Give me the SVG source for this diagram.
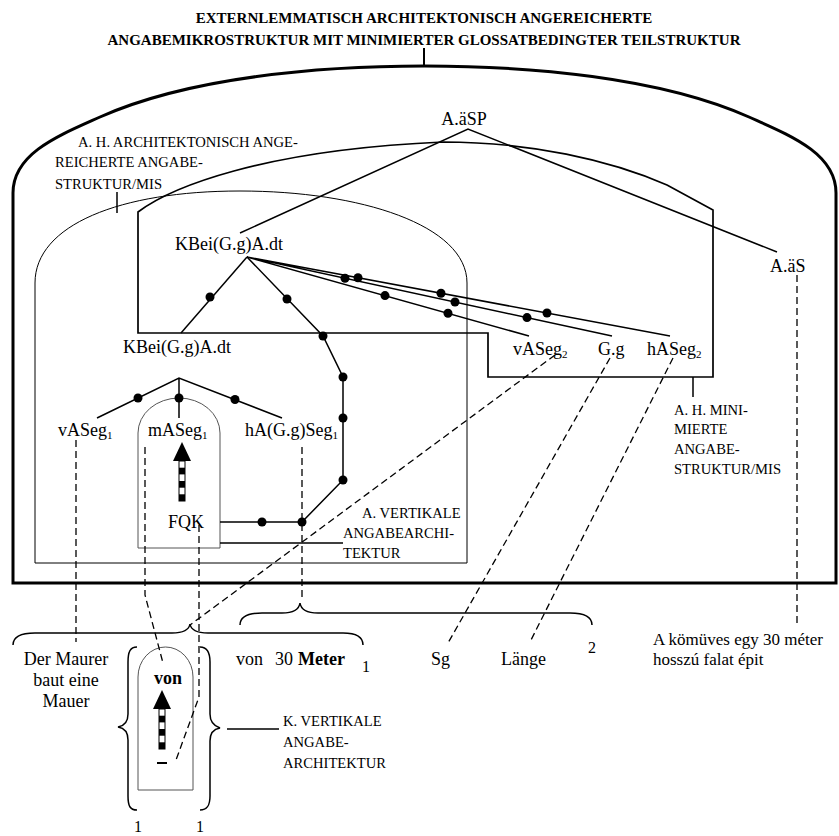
<svg xmlns="http://www.w3.org/2000/svg" width="839" height="836" viewBox="0 0 839 836">
<style>
text{font-family:"Liberation Serif","Times New Roman",serif;fill:#000}
.t{font-size:18px}
.ti{font-size:15px;font-weight:bold;text-anchor:middle}
.lb{font-size:14.6px}
.b{font-weight:bold}
.sub{font-size:11px}
.frame{fill:none;stroke:#000;stroke-width:3}
.med{fill:none;stroke:#000;stroke-width:1.7}
.thin{fill:none;stroke:#000;stroke-width:1}
.gray{fill:none;stroke:#555;stroke-width:1}
.ln{fill:none;stroke:#000;stroke-width:1.5}
.dash{fill:none;stroke:#000;stroke-width:1.3;stroke-dasharray:7,4}
.dot{fill:#000}
.brace{fill:none;stroke:#000;stroke-width:1.5}
</style>
<defs>
<g id="arrow">
<polygon points="0,0 -9,19 9,19" fill="#000"/>
<rect x="-3" y="19" width="6" height="40" fill="#fff" stroke="#000" stroke-width="1"/>
<rect x="-3" y="25.7" width="6" height="6.7" fill="#000"/>
<rect x="-3" y="39" width="6" height="6.7" fill="#000"/>
<rect x="-3" y="52.3" width="6" height="6.7" fill="#000"/>
</g>
</defs>

<g id="title">
<text class="ti" x="424" y="23">EXTERNLEMMATISCH ARCHITEKTONISCH ANGEREICHERTE</text>
<text class="ti" x="424" y="45">ANGABEMIKROSTRUKTUR MIT MINIMIERTER GLOSSATBEDINGTER TEILSTRUKTUR</text>
<line x1="424" y1="48" x2="424" y2="66" stroke="#000" stroke-width="2"/>
</g>

<g id="outer-frame">
<path class="frame" d="M13,583 L13,193 C13,153 60,135 100,117 C190,77 320,66 424.5,66 C529,66 659,77 749,117 C789,135 836,153 836,193 L836,583 Z"/>
</g>

<g id="structure-mis">
<path class="med" d="M138,333 L138,212 C170,188 260,150 443,142 C530,142 610,160 667,185 L713,210 L713,377 L488,377 L488,333 Z"/>
</g>

<g id="structure-vertical">
<path class="thin" d="M35,563 L35,283 C35,225 120,191 240,191 C360,191 467,225 467,283 L467,563 Z"/>
</g>

<g id="mASeg-box">
<path class="gray" d="M138,548 L138,433 A41,35 0 0 1 220,433 L220,548 Z"/>
<use href="#arrow" transform="translate(182,442)"/>
</g>

<g id="von-box">
<path class="gray" d="M138,790 L138,677 A27.5,30 0 0 1 193,677 L193,790 Z"/>
<use href="#arrow" transform="translate(162,690)"/>
<line x1="157" y1="763" x2="167" y2="763" stroke="#000" stroke-width="2"/>
</g>

<g id="connectors">
<path class="ln" d="M240,233 L468,129 L777,252"/>
<path class="ln" d="M247,257 L181,333"/>
<path class="ln" d="M247,257 L323,336 L343,377 L343,480 L302,522 L220,522"/>
<path class="ln" d="M247,257 L529,336 M247,257 L612,336 M247,257 L670,336"/>
<path class="ln" d="M97,418 L179,378 L282,418 M179,378 L179,418"/>
<path class="ln" d="M117,192 L117,213 M693,377 L693,397 M220,543 L343,543 M227,729 L279,729"/>
<g class="dots">
<circle class="dot" cx="210" cy="297" r="4.5"/>
<circle class="dot" cx="287" cy="299" r="4.5"/>
<circle class="dot" cx="323" cy="336" r="4.5"/>
<circle class="dot" cx="343" cy="377" r="4.5"/>
<circle class="dot" cx="343" cy="418" r="4.5"/>
<circle class="dot" cx="343" cy="480" r="4.5"/>
<circle class="dot" cx="302" cy="522" r="4.5"/>
<circle class="dot" cx="262" cy="522" r="4.5"/>
<circle class="dot" cx="345" cy="278.2" r="4.5"/>
<circle class="dot" cx="358" cy="277.7" r="4.5"/>
<circle class="dot" cx="385" cy="295.6" r="4.5"/>
<circle class="dot" cx="441" cy="293.2" r="4.5"/>
<circle class="dot" cx="455" cy="302" r="4.5"/>
<circle class="dot" cx="448" cy="313.3" r="4.5"/>
<circle class="dot" cx="527" cy="317.6" r="4.5"/>
<circle class="dot" cx="547" cy="313" r="4.5"/>
<circle class="dot" cx="138" cy="398" r="4.5"/>
<circle class="dot" cx="179" cy="398" r="4.5"/>
<circle class="dot" cx="235" cy="399.5" r="4.5"/>
</g>
<path class="dash" d="M76,440 L76,642"/>
<path class="dash" d="M145,447 L145,595 L163,663"/>
<path class="dash" d="M199,525 L199,697 L176,760"/>
<path class="dash" d="M302,447 L302,597"/>
<path class="dash" d="M555,355 L190,625"/>
<path class="dash" d="M610,358 L448,643"/>
<path class="dash" d="M673,358 L530,642"/>
<path class="dash" d="M797,275 L797,625"/>
<path class="brace" d="M13,645 C13,637 20,633 35,633 L172,633 C183,633 189,630 190,624 C191,630 197,633 208,633 L343,633 C356,633 363,637 363,645"/>
<path class="brace" d="M240,625 C240,617 247,613 262,613 L282,613 C293,613 299,610 300,603 C301,610 307,613 318,613 L570,613 C584,613 592,617 592,625"/>
<path class="brace" d="M137,647 C130,647 128,652 128,662 L128,714 C128,722 124,726 118,727 C124,728 128,732 128,740 L128,796 C128,806 130,810 137,810"/>
<path class="brace" d="M200,647 C207,647 210,652 210,662 L210,714 C210,722 214,726 220,728 C214,729 210,733 210,741 L210,796 C210,806 207,810 200,810"/>
</g>

<g id="labels">
<text class="lb" x="78" y="147">A. H. ARCHITEKTONISCH ANGE-</text>
<text class="lb" x="55" y="167">REICHERTE ANGABE-</text>
<text class="lb" x="55" y="189">STRUKTUR/MIS</text>
<text class="lb" x="674" y="415">A. H. MINI-</text>
<text class="lb" x="674" y="434">MIERTE</text>
<text class="lb" x="674" y="454">ANGABE-</text>
<text class="lb" x="674" y="474">STRUKTUR/MIS</text>
<text class="lb" x="362" y="518">A. VERTIKALE</text>
<text class="lb" x="343" y="538">ANGABEARCHI-</text>
<text class="lb" x="343" y="558">TEKTUR</text>
<text class="lb" x="283" y="726">K. VERTIKALE</text>
<text class="lb" x="283" y="747">ANGABE-</text>
<text class="lb" x="283" y="768">ARCHITEKTUR</text>
</g>

<g id="node-AaSP"><text class="t" x="464" y="125" text-anchor="middle">A.äSP</text></g>
<g id="node-KBei-top"><text class="t" x="175" y="250">KBei(G.g)A.dt</text></g>
<g id="node-KBei-low"><text class="t" x="123" y="353">KBei(G.g)A.dt</text></g>
<g id="node-vASeg1"><text class="t" x="58" y="436">vASeg<tspan class="sub" dy="3">1</tspan></text></g>
<g id="node-mASeg1"><text class="t" x="148" y="436">mASeg<tspan class="sub" dy="3">1</tspan></text></g>
<g id="node-hASeg1"><text class="t" x="245" y="436">hA(G.g)Seg<tspan class="sub" dy="3">1</tspan></text></g>
<g id="node-FQK"><text class="t" x="168" y="528">FQK</text></g>
<g id="node-vASeg2"><text class="t" x="513" y="355">vASeg<tspan class="sub" dy="3">2</tspan></text></g>
<g id="node-Gg"><text class="t" x="598" y="355">G.g</text></g>
<g id="node-hASeg2"><text class="t" x="647" y="355">hASeg<tspan class="sub" dy="3">2</tspan></text></g>
<g id="node-AaS"><text class="t" x="770" y="272">A.äS</text></g>

<g id="sentence-de">
<text class="t" x="66" y="665" text-anchor="middle">Der Maurer</text>
<text class="t" x="66" y="686" text-anchor="middle">baut eine</text>
<text class="t" x="66" y="707" text-anchor="middle">Mauer</text>
<text class="t b" x="168" y="684" text-anchor="middle">von</text>
<text class="t" y="665"><tspan x="236">von</tspan><tspan x="275">30</tspan><tspan x="298" class="b">Meter</tspan></text>
<text x="362" y="672" style="font-size:16px">1</text>
<text class="t" x="431" y="665">Sg</text>
<text class="t" x="501" y="665">Länge</text>
<text x="588" y="653" style="font-size:16px">2</text>
<text x="138" y="832" text-anchor="middle" style="font-size:16px">1</text>
<text x="200" y="832" text-anchor="middle" style="font-size:16px">1</text>
</g>

<g id="sentence-hu">
<text x="653" y="645" style="font-size:17px">A kömüves egy 30 méter</text>
<text x="653" y="665" style="font-size:17px">hosszú falat épit</text>
</g>
</svg>
